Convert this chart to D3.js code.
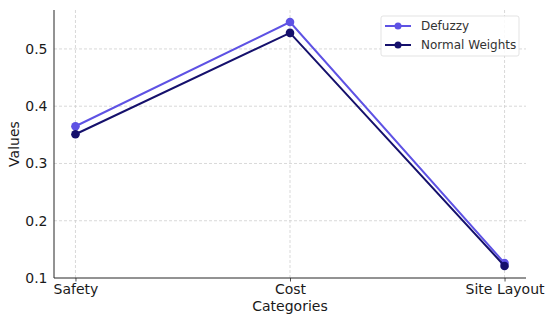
<!DOCTYPE html>
<html>
<head>
<meta charset="utf-8">
<script src="https://cdn.jsdelivr.net/npm/d3@7"></script>
<style>
  body { margin: 0; background: #fff; }
  svg text { font-family: "DejaVu Sans", sans-serif; fill: #1a1a1a; }
</style>
</head>
<body>
<div id="chart"></div>
<script>
// chart data
var categories = ["Safety", "Cost", "Site Layout"];
var defuzzy = [0.365, 0.547, 0.126];
var normalWeights = [0.351, 0.528, 0.121];
var yTicks = [0.1, 0.2, 0.3, 0.4, 0.5];

var series = [
  { name: "Defuzzy", values: defuzzy, color: "#5e52e4" },
  { name: "Normal Weights", values: normalWeights, color: "#15106c" }
];

var width = 550, height = 320;
var margin = { top: 10, right: 24, bottom: 42, left: 54 };

var svg = d3.select("#chart")
  .append("svg")
  .attr("width", width)
  .attr("height", height);

// x is an index scale with matplotlib-like 5% padding
var x = d3.scaleLinear()
  .domain([-0.1, categories.length - 1 + 0.1])
  .range([margin.left, width - margin.right]);

var y = d3.scaleLinear()
  .domain([0.1, 0.568])
  .range([height - margin.bottom, margin.top]);

//grid
var grid = svg.append("g").attr("class", "grid");
grid.selectAll("line.h")
  .data(yTicks.slice(1))
  .enter().append("line")
  .attr("x1", margin.left).attr("x2", width - margin.right)
  .attr("y1", function (d) { return y(d); })
  .attr("y2", function (d) { return y(d); })
  .style("stroke", "#cfcfcf").style("stroke-width", 0.8)
  .style("stroke-dasharray", "3,2");
grid.selectAll("line.v")
  .data(categories)
  .enter().append("line")
  .attr("x1", function (d, i) { return x(i); })
  .attr("x2", function (d, i) { return x(i); })
  .attr("y1", margin.top).attr("y2", height - margin.bottom)
  .style("stroke", "#cfcfcf").style("stroke-width", 0.8)
  .style("stroke-dasharray", "3,2");

//axes
var xAxis = d3.axisBottom(x)
  .tickValues(d3.range(categories.length))
  .tickFormat(function (i) { return categories[i]; })
  .tickSize(3.5).tickPadding(3);
var yAxis = d3.axisLeft(y)
  .tickValues(yTicks)
  .tickFormat(d3.format(".1f"))
  .tickSize(3.5).tickPadding(3);

var gx = svg.append("g")
  .attr("transform", "translate(0," + (height - margin.bottom) + ")")
  .call(xAxis);
var gy = svg.append("g")
  .attr("transform", "translate(" + margin.left + ",0)")
  .call(yAxis);

[gx, gy].forEach(function (g) {
  g.select(".domain").attr("d", null);
  g.selectAll(".tick line").style("stroke", "#262626").style("stroke-width", 0.8);
  g.selectAll(".tick text").style("font-size", "14px").style("fill", "#1a1a1a");
});
gy.selectAll(".tick line").attr("x2", 0).attr("x1", 0);
// spines: left and bottom only
svg.append("line")
  .attr("x1", margin.left).attr("x2", margin.left)
  .attr("y1", margin.top).attr("y2", height - margin.bottom)
  .style("stroke", "#262626").style("stroke-width", 1);
svg.append("line")
  .attr("x1", margin.left).attr("x2", width - margin.right)
  .attr("y1", height - margin.bottom).attr("y2", height - margin.bottom)
  .style("stroke", "#262626").style("stroke-width", 1);

//axis labels
svg.append("text")
  .attr("x", (margin.left + width - margin.right) / 2)
  .attr("y", 311)
  .attr("text-anchor", "middle")
  .style("font-size", "14px")
  .text("Categories");
svg.append("text")
  .attr("transform", "translate(18.5," + ((margin.top + height - margin.bottom) / 2) + ") rotate(-90)")
  .attr("text-anchor", "middle")
  .style("font-size", "14px")
  .text("Values");

//lines
var line = d3.line()
  .x(function (d, i) { return x(i); })
  .y(function (d) { return y(d); });

var sg = svg.selectAll("g.series")
  .data(series)
  .enter().append("g")
  .attr("class", "series");
sg.append("path")
  .attr("d", function (d) { return line(d.values); })
  .style("fill", "none")
  .style("stroke", function (d) { return d.color; })
  .style("stroke-width", 2);
sg.selectAll("circle")
  .data(function (d) { return d.values.map(function (v) { return { v: v, c: d.color }; }); })
  .enter().append("circle")
  .attr("cx", function (d, i) { return x(i); })
  .attr("cy", function (d) { return y(d.v); })
  .attr("r", 4.3)
  .style("fill", function (d) { return d.c; });

//legend
var lg = svg.append("g").attr("transform", "translate(381,16)");
lg.append("rect")
  .attr("width", 138).attr("height", 40).attr("rx", 2)
  .style("fill", "rgba(255,255,255,0.85)")
  .style("stroke", "#dcdcdc").style("stroke-width", 0.8);
var item = lg.selectAll("g.item")
  .data(series)
  .enter().append("g")
  .attr("transform", function (d, i) { return "translate(0," + (10 + i * 19) + ")"; });
item.append("line")
  .attr("x1", 4).attr("x2", 30)
  .style("stroke", function (d) { return d.color; })
  .style("stroke-width", 2);
item.append("circle")
  .attr("cx", 17).attr("r", 3.5)
  .style("fill", function (d) { return d.c || d.color; });
item.append("text")
  .attr("x", 40).attr("dy", "0.35em")
  .style("font-size", "12px")
  .style("fill", "#333")
  .text(function (d) { return d.name; });
</script>
</body>
</html>
